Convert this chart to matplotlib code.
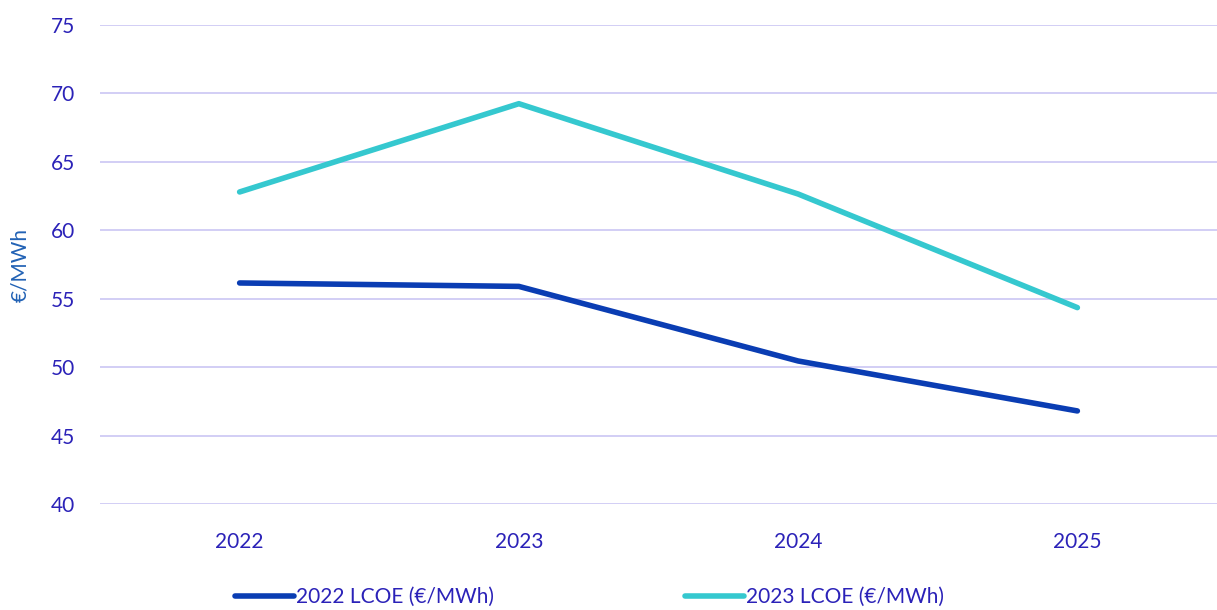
import matplotlib
matplotlib.use("Agg")
import matplotlib.pyplot as plt

years = ["2022", "2023", "2024", "2025"]
lcoe_2022 = [56.15, 55.9, 50.45, 46.8]
lcoe_2023 = [62.8, 69.25, 62.65, 54.35]
series_names = ["2022 LCOE (€/MWh)", "2023 LCOE (€/MWh)"]
yticks = [40, 45, 50, 55, 60, 65, 70, 75]

plt.rcParams['font.family'] = ['Lato', 'DejaVu Sans']

fig = plt.figure(figsize=(12.17, 6.10), dpi=100)
ax = fig.add_axes([100/1217, 106/610, 1117/1217, 479/610])

x = list(range(len(years)))
ax.plot(x, lcoe_2022, color="#0a3db3", lw=4.0, solid_capstyle="round", label=series_names[0], zorder=3)
ax.plot(x, lcoe_2023, color="#35c8cf", lw=4.0, solid_capstyle="round", label=series_names[1], zorder=3)

ax.set_xlim(-0.5, 3.5)
ax.set_ylim(40, 75)
ax.set_xticks(x)
ax.set_xticklabels(years)
ax.set_yticks(yticks)
ax.grid(axis="y", color="#cbc6f3", lw=1.2)
ax.set_axisbelow(True)
for s in ax.spines.values():
    s.set_visible(False)
ax.tick_params(axis="both", length=0, labelsize=15, labelcolor="#2b22b8")
ax.tick_params(axis="x", pad=20)
ax.tick_params(axis="y", pad=18)
ax.set_ylabel("€/MWh", fontsize=15, color="#2262b5")
ax.yaxis.set_label_coords(-0.062, 0.5)

leg = fig.legend(loc="lower left", bbox_to_anchor=(0.178, -0.026), ncol=2, frameon=False,
                 fontsize=15, handlelength=2.8, handletextpad=0.1, columnspacing=9.2,
                 labelcolor="#2b22b8")
fig.savefig("out.png", dpi=100)
